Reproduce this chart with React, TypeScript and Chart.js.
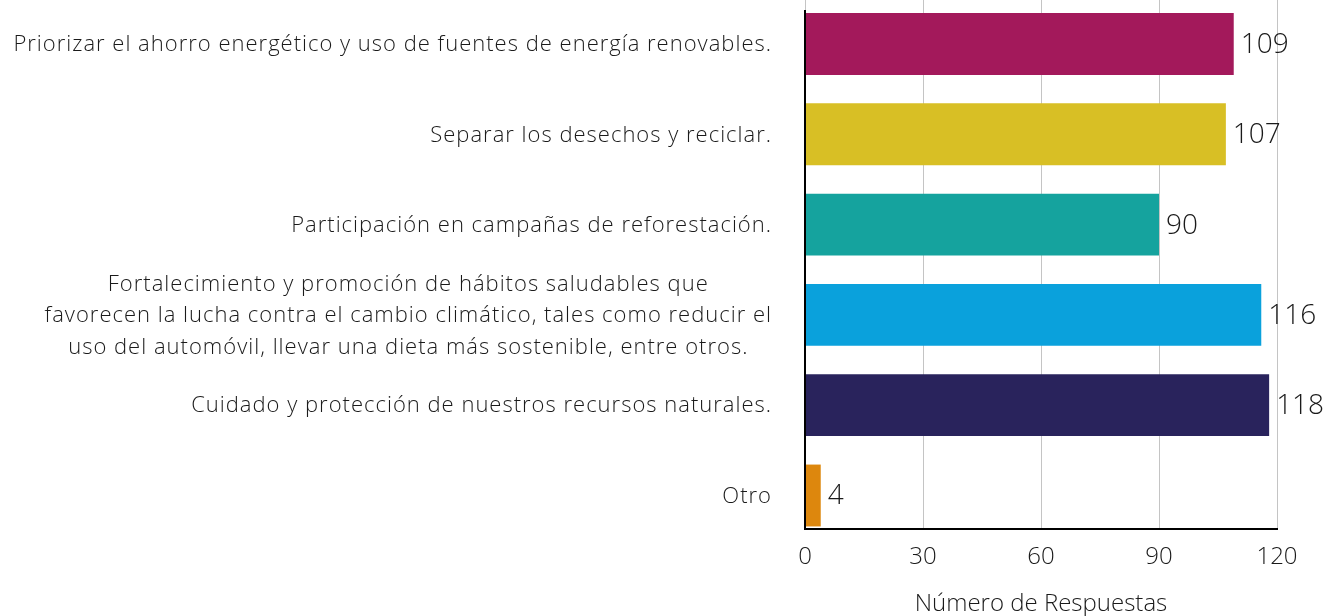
import React, { useEffect, useRef } from "react";
import { Chart, registerables } from "chart.js";

Chart.register(...registerables);

const categories: string[][] = [
  ["Priorizar el ahorro energético y uso de fuentes de energía renovables."],
  ["Separar los desechos y reciclar."],
  ["Participación en campañas de reforestación."],
  [
    "Fortalecimiento y promoción de hábitos saludables que",
    "favorecen la lucha contra el cambio climático, tales como reducir el",
    "uso del automóvil, llevar una dieta más sostenible, entre otros.",
  ],
  ["Cuidado y protección de nuestros recursos naturales."],
  ["Otro"],
];
const values: number[] = [109, 107, 90, 116, 118, 4];
const colors: string[] = ["#A3195B", "#D8BF25", "#15A39E", "#0AA1DC", "#29235C", "#DD870D"];
const xTicks: number[] = [0, 30, 60, 90, 120];
const xTitle = "Número de Respuestas";

const FONT = "'Open Sans', Lato, sans-serif";
const W = "300";
const TEXT = "#1a1a1a";

const labelsPlugin = {
  id: "customLabels",
  afterDatasetsDraw(chart: any) {
    const ctx = chart.ctx;
    const meta = chart.getDatasetMeta(0);
    const yScale = chart.scales.y;
    const area = chart.chartArea;
    ctx.save();
    // value labels
    ctx.font = `${W} 28px ${FONT}`;
    ctx.fillStyle = TEXT;
    ctx.textAlign = "left";
    ctx.textBaseline = "middle";
    meta.data.forEach((bar: any, i: number) => {
      ctx.fillText(String(values[i]), bar.x + 7, bar.y + 1);
    });
    // category labels
    ctx.font = `${W} 22px ${FONT}`;
    try {
      (ctx as any).letterSpacing = "1px";
    } catch (e) {}
    ctx.textAlign = "center";
    const right = area.left - 33;
    const lh = 31.5;
    categories.forEach((lines, i) => {
      const cy = yScale.getPixelForValue(i) + 1;
      const w = Math.max(...lines.map((l) => ctx.measureText(l).width));
      const cx = right - w / 2;
      const y0 = cy - ((lines.length - 1) * lh) / 2;
      lines.forEach((l, j) => ctx.fillText(l, cx, y0 + j * lh));
    });
    try {
      (ctx as any).letterSpacing = "0px";
    } catch (e) {}
    // y axis line
    ctx.strokeStyle = "#000";
    ctx.lineWidth = 2;
    ctx.beginPath();
    ctx.moveTo(area.left, area.top + 10);
    ctx.lineTo(area.left, area.bottom);
    ctx.stroke();
    ctx.restore();
  },
};

export default function App() {
  const ref = useRef<HTMLCanvasElement>(null);
  useEffect(() => {
    if (!ref.current) return;
    const chart = new Chart(ref.current, {
      type: "bar",
      data: {
        datasets: [
          {
            data: values.map((v, i) => ({ x: v, y: i })),
            backgroundColor: colors,
            borderWidth: 0,
            categoryPercentage: 1,
            barPercentage: 0.685,
          } as any,
        ],
      },
      options: {
        indexAxis: "y",
        animation: false,
        responsive: true,
        maintainAspectRatio: false,
        layout: { padding: { left: 0, right: 66, top: 0, bottom: 0 } },
        plugins: { legend: { display: false }, tooltip: { enabled: false } },
        scales: {
          x: {
            type: "linear",
            min: 0,
            max: 120,
            afterBuildTicks: (s: any) => {
              s.ticks = xTicks.map((v) => ({ value: v }));
            },
            afterFit: (s: any) => {
              s.height = 87;
            },
            grid: { color: "#c4c4c4", lineWidth: 1, drawTicks: false },
            border: { display: true, color: "#000", width: 2 },
            ticks: {
              padding: 14,
              color: TEXT,
              font: { family: FONT, size: 24, weight: W },
            },
            title: {
              display: true,
              text: xTitle,
              color: TEXT,
              font: { family: FONT, size: 24, weight: W, lineHeight: 1 },
              padding: { top: 0, bottom: 0 },
            },
          },
          y: {
            type: "linear",
            reverse: true,
            offset: false,
            min: -0.487,
            max: 5.371,
            afterBuildTicks: (s: any) => {
              s.ticks = categories.map((_, i) => ({ value: i }));
            },
            afterFit: (s: any) => {
              s.width = 805;
            },
            grid: { display: false },
            border: { display: false },
            ticks: { display: false },
          },
        },
      } as any,
      plugins: [labelsPlugin],
    });
    return () => chart.destroy();
  }, []);
  return (
    <div style={{ position: "absolute", left: 0, top: 0, width: 1343, height: 616 }}>
      <canvas ref={ref} />
    </div>
  );
}
